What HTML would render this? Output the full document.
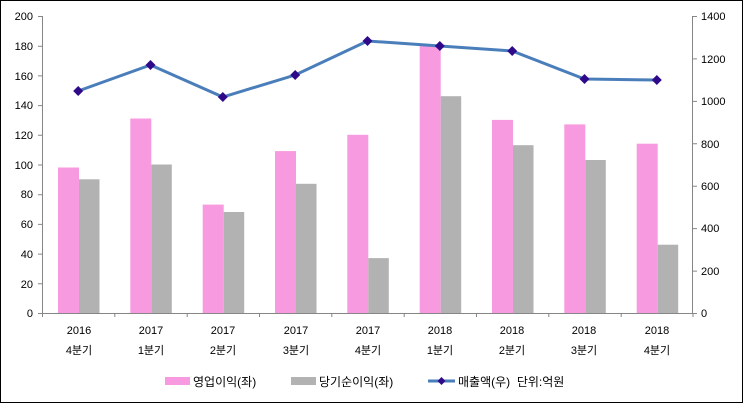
<!DOCTYPE html>
<html><head><meta charset="utf-8"><style>
html,body{margin:0;padding:0;background:#fff}
svg{display:block}
text{font-family:"Liberation Sans","Noto Sans CJK KR","NanumGothic",sans-serif;font-size:11px;fill:#000}
.lg{font-size:12px}
</style></head><body>
<svg width="743" height="403" viewBox="0 0 743 403" xmlns="http://www.w3.org/2000/svg">
<rect x="0.5" y="0.5" width="742" height="402" fill="#fff" stroke="#000"/>
<g fill="#f79ae0">
<rect x="58" y="167.5" width="21" height="145.5"/>
<rect x="130.3" y="118.5" width="21" height="194.5"/>
<rect x="202.7" y="204.6" width="21" height="108.4"/>
<rect x="275" y="151.1" width="21" height="161.9"/>
<rect x="347.3" y="134.8" width="21" height="178.2"/>
<rect x="419.7" y="45.7" width="21" height="267.3"/>
<rect x="492" y="119.9" width="21" height="193.1"/>
<rect x="564.3" y="124.4" width="21" height="188.6"/>
<rect x="636.7" y="143.7" width="21" height="169.3"/>
</g>
<g fill="#b2b2b2">
<rect x="79" y="179.3" width="20.5" height="133.7"/>
<rect x="151.3" y="164.5" width="20.5" height="148.5"/>
<rect x="223.7" y="212" width="20.5" height="101"/>
<rect x="296" y="183.8" width="20.5" height="129.2"/>
<rect x="368.3" y="258.1" width="20.5" height="54.9"/>
<rect x="440.7" y="96.2" width="20.5" height="216.8"/>
<rect x="513" y="145.2" width="20.5" height="167.8"/>
<rect x="585.3" y="160" width="20.5" height="153"/>
<rect x="657.7" y="244.7" width="20.5" height="68.3"/>
</g>
<g stroke="#868686" stroke-width="1" fill="none">
<line x1="42.5" y1="16" x2="42.5" y2="313"/>
<line x1="692.5" y1="16" x2="692.5" y2="313"/>
<line x1="42" y1="313.5" x2="693" y2="313.5"/>
<path d="M38 16.5h5M38 46.2h5M38 75.9h5M38 105.6h5M38 135.3h5M38 165h5M38 194.7h5M38 224.4h5M38 254.1h5M38 283.8h5M38 313.5h5"/>
<path d="M692 16.5h5M692 58.9h5M692 101.4h5M692 143.8h5M692 186.2h5M692 228.6h5M692 271.1h5M692 313.5h5"/>
<path d="M42.5 313v4M114.8 313v4M187.2 313v4M259.5 313v4M331.8 313v4M404.2 313v4M476.5 313v4M548.8 313v4M621.2 313v4M693 313v4"/>
</g>
<g text-anchor="end">
<text x="33" y="20">200</text><text x="33" y="50">180</text><text x="33" y="80">160</text><text x="33" y="109">140</text><text x="33" y="139">120</text><text x="33" y="169">100</text><text x="33" y="198">80</text><text x="33" y="228">60</text><text x="33" y="258">40</text><text x="33" y="288">20</text><text x="33" y="317">0</text>
</g>
<g text-anchor="start">
<text x="701" y="20">1400</text><text x="701" y="63">1200</text><text x="701" y="105">1000</text><text x="701" y="148">800</text><text x="701" y="190">600</text><text x="701" y="232">400</text><text x="701" y="275">200</text><text x="701" y="317">0</text>
</g>
<g text-anchor="middle">
<text x="79" y="334">2016</text><text x="79" y="354">4분기</text>
<text x="151" y="334">2017</text><text x="151" y="354">1분기</text>
<text x="223" y="334">2017</text><text x="223" y="354">2분기</text>
<text x="296" y="334">2017</text><text x="296" y="354">3분기</text>
<text x="368" y="334">2017</text><text x="368" y="354">4분기</text>
<text x="440" y="334">2018</text><text x="440" y="354">1분기</text>
<text x="512" y="334">2018</text><text x="512" y="354">2분기</text>
<text x="584" y="334">2018</text><text x="584" y="354">3분기</text>
<text x="657" y="334">2018</text><text x="657" y="354">4분기</text>
</g>
<polyline points="78.2,91 150.5,65 222.8,97 295.2,75 367.5,41 439.8,46 512.2,51 584.5,79 656.8,80" fill="none" stroke="#4a7ebb" stroke-width="3"/>
<g fill="#2e0a8a">
<path d="M78.2 86l5 5-5 5-5-5z"/><path d="M150.5 60l5 5-5 5-5-5z"/><path d="M222.8 92l5 5-5 5-5-5z"/><path d="M295.2 70l5 5-5 5-5-5z"/><path d="M367.5 36l5 5-5 5-5-5z"/><path d="M439.8 41l5 5-5 5-5-5z"/><path d="M512.2 46l5 5-5 5-5-5z"/><path d="M584.5 74l5 5-5 5-5-5z"/><path d="M656.8 75l5 5-5 5-5-5z"/>
</g>
<rect x="165" y="377" width="25" height="8" fill="#f79ae0"/>
<text class="lg" x="193" y="386">영업이익(좌)</text>
<rect x="291" y="377" width="25" height="8" fill="#b2b2b2"/>
<text class="lg" x="319" y="386">당기순이익(좌)</text>
<line x1="428" y1="381" x2="455" y2="381" stroke="#4a7ebb" stroke-width="3"/>
<path d="M441.5 377l4 4-4 4-4-4z" fill="#2e0a8a"/>
<text class="lg" x="458" y="386" xml:space="preserve">매출액(우)  단위:억원</text>
</svg>
</body></html>
